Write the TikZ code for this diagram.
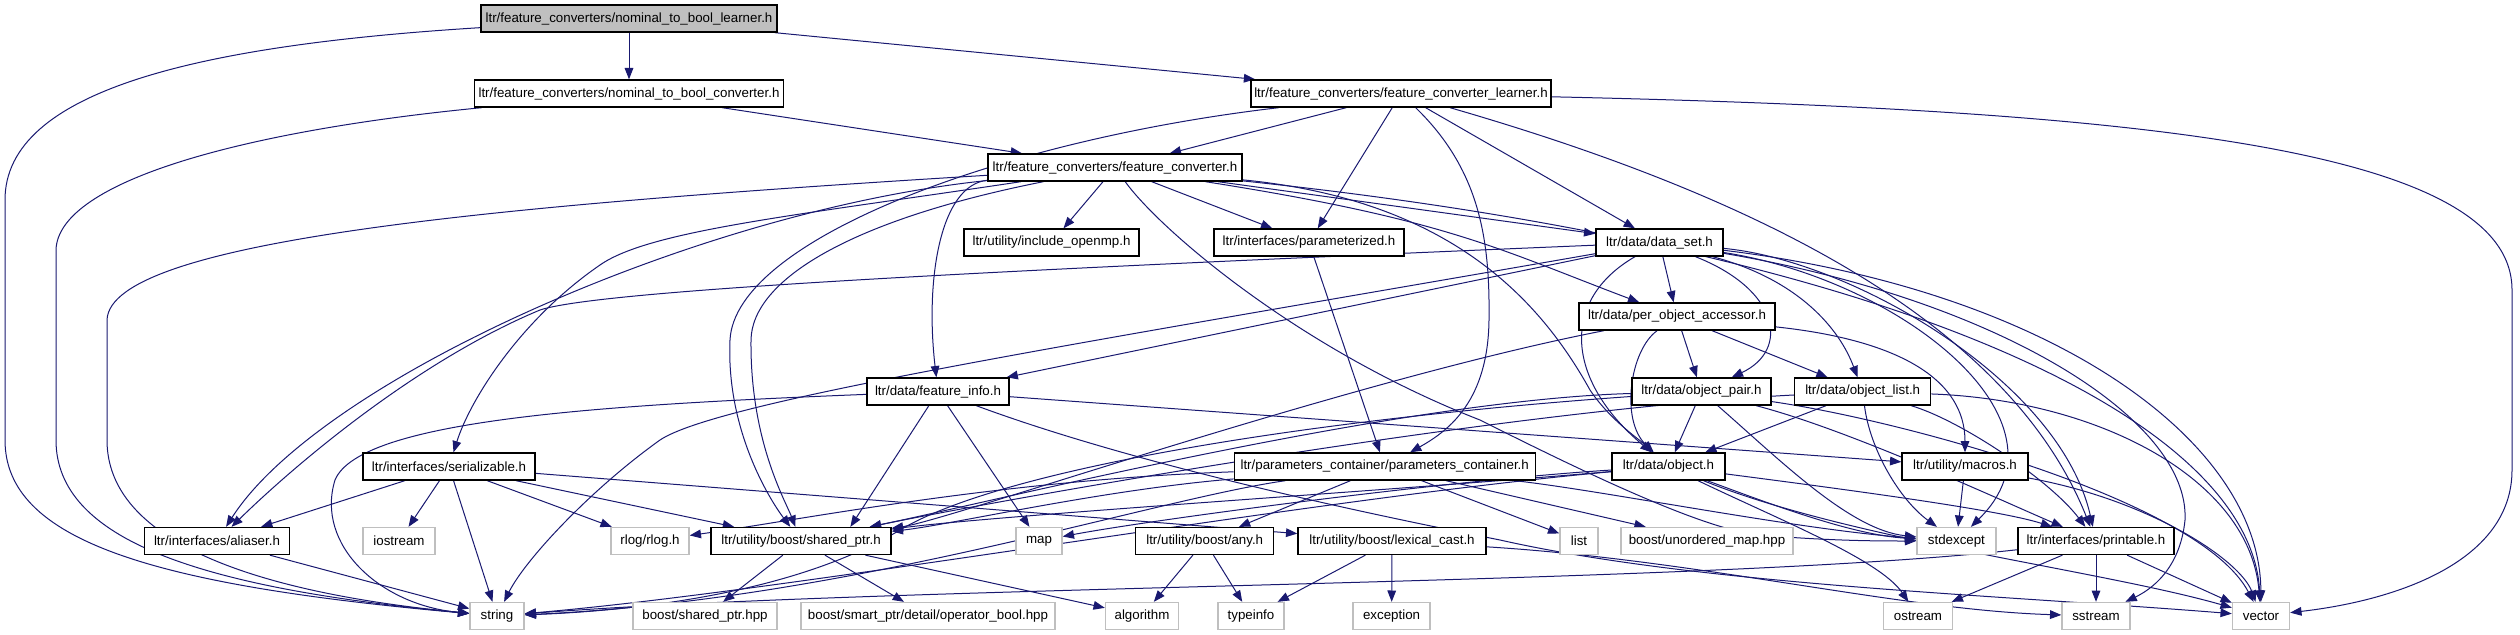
\documentclass[tikz,border=0pt]{standalone}
\usepackage{fontspec}
\setmainfont{Liberation Sans}
\usetikzlibrary{arrows.meta}
\definecolor{edgec}{HTML}{191970}
\definecolor{sysgray}{HTML}{BFBFBF}
\pgfdeclarelayer{edges}
\pgfsetlayers{edges,main}
\begin{document}
\begin{tikzpicture}[x=0.75pt,y=-0.75pt,
  hdr/.style={draw=black, line width=1pt, fill=white, minimum height=20.25pt, inner sep=0pt, font=\fontsize{10}{12}\selectfont},
  sys/.style={hdr, draw=sysgray},
  w/.style={minimum width=#1*0.75pt},
  e/.style={draw=edgec, line width=0.75pt, -{Triangle[length=8.5pt,width=6.5pt]}}]
\useasboundingbox (0,0) rectangle (2520,635);
% nodes
\node[hdr,w=296,fill=sysgray] (L) at (629,18.5) {ltr/feature\_converters/nominal\_to\_bool\_learner.h};
\node[hdr,w=309] (NC) at (629,93.5) {ltr/feature\_converters/nominal\_to\_bool\_converter.h};
\node[hdr,w=300] (FCL) at (1401,93.5) {ltr/feature\_converters/feature\_converter\_learner.h};
\node[hdr,w=254] (FC) at (1115,167.5) {ltr/feature\_converters/feature\_converter.h};
\node[hdr,w=175] (OMP) at (1051.5,242.5) {ltr/utility/include\_openmp.h};
\node[hdr,w=190] (PAR) at (1309,242.5) {ltr/interfaces/parameterized.h};
\node[hdr,w=127] (DS) at (1659.5,242.5) {ltr/data/data\_set.h};
\node[hdr,w=196] (POA) at (1677,316.5) {ltr/data/per\_object\_accessor.h};
\node[hdr,w=142] (FI) at (938,391.5) {ltr/data/feature\_info.h};
\node[hdr,w=139] (OP) at (1701.5,391.5) {ltr/data/object\_pair.h};
\node[hdr,w=136] (OL) at (1862.7,391.5) {ltr/data/object\_list.h};
\node[hdr,w=172] (SER) at (449,466.5) {ltr/interfaces/serializable.h};
\node[hdr,w=301] (PC) at (1384.7,466.5) {ltr/parameters\_container/parameters\_container.h};
\node[hdr,w=113] (OBJ) at (1668.5,466.5) {ltr/data/object.h};
\node[hdr,w=126] (MAC) at (1965,466.5) {ltr/utility/macros.h};
\node[hdr,w=145] (ALI) at (217,541) {ltr/interfaces/aliaser.h};
\node[sys,w=72] (IOS) at (399,541) {iostream};
\node[sys,w=78] (RLOG) at (650,541) {rlog/rlog.h};
\node[hdr,w=180] (SP) at (801,541) {ltr/utility/boost/shared\_ptr.h};
\node[sys,w=46] (MAP) at (1039,541) {map};
\node[hdr,w=138] (ANY) at (1204.7,541) {ltr/utility/boost/any.h};
\node[hdr,w=188] (LEX) at (1392,541) {ltr/utility/boost/lexical\_cast.h};
\node[sys,w=38] (LIST) at (1579,541) {list};
\node[sys,w=172] (UMAP) at (1707,541) {boost/unordered\_map.hpp};
\node[sys,w=79] (STDE) at (1956.4,541) {stdexcept};
\node[hdr,w=156] (PRN) at (2096,541) {ltr/interfaces/printable.h};
\node[sys,w=54] (STR) at (497,616) {string};
\node[sys,w=144] (BSP) at (705,616) {boost/shared\_ptr.hpp};
\node[sys,w=254] (OPB) at (928,616) {boost/smart\_ptr/detail/operator\_bool.hpp};
\node[sys,w=73] (ALG) at (1142,616) {algorithm};
\node[sys,w=66] (TYP) at (1251,616) {typeinfo};
\node[sys,w=77] (EXC) at (1391.6,616) {exception};
\node[sys,w=69] (OST) at (1918,616) {ostream};
\node[sys,w=68] (SST) at (2096,616) {sstream};
\node[sys,w=57] (VEC) at (2261,616) {vector};
\begin{pgfonlayer}{edges}
% top level
\draw[e] (L) .. controls (200,45) and (5,90) .. (5,200) -- (5,440) .. controls (5,540) and (150,585) .. (STR);
\draw[e] (L) -- (NC);
\draw[e] (L) -- (FCL);
\draw[e] (NC) .. controls (250,130) and (58,180) .. (56,250) -- (56,440) .. controls (56,540) and (200,588) .. (STR);
\draw[e] (NC) -- (FC);
% feature_converter_learner
\draw[e] (FCL) -- (FC);
\draw[e] (FCL) .. controls (1000,140) and (735,240) .. (730,340) .. controls (726,430) and (770,500) .. (SP);
\draw[e] (FCL) -- (PAR);
\draw[e] (FCL) -- (DS);
\draw[e] (FCL) .. controls (1480,170) and (1490,240) .. (1489,320) .. controls (1488,400) and (1450,430) .. (PC);
\draw[e] (FCL) .. controls (1700,180) and (2000,300) .. (PRN);
\draw[e] (FCL) .. controls (2150,110) and (2512,150) .. (2512,290) -- (2512,470) .. controls (2512,560) and (2400,600) .. (VEC);
% feature_converter
\draw[e] (FC) .. controls (500,205) and (110,240) .. (107,320) -- (107,440) .. controls (107,540) and (250,592) .. (STR);
\draw[e] (FC) .. controls (700,210) and (320,380) .. (ALI);
\draw[e] (FC) .. controls (800,215) and (650,230) .. (600,265) .. controls (520,320) and (470,400) .. (SER);
\draw[e] (FC) .. controls (850,220) and (752,280) .. (751,340) .. controls (750,440) and (785,500) .. (SP);
\draw[e] (FC) .. controls (940,185) and (925,280) .. (FI);
\draw[e] (FC) -- (OMP);
\draw[e] (FC) -- (PAR);
\draw[e] (FC) .. controls (1160,230) and (1300,350) .. (1480,420) .. controls (1560,460) and (1700,530) .. (1760,535) .. controls (1830,541) and (1880,541) .. (STDE);
\draw[e] (FC) -- (DS);
\draw[e] (FC) .. controls (1450,220) and (1500,250) .. (POA);
\draw[e] (FC) .. controls (1450,200) and (1540,300) .. (1590,390) .. controls (1610,420) and (1640,440) .. (OBJ);
\draw[e] (FC) .. controls (1900,250) and (2250,420) .. (VEC);
% parameterized
\draw[e] (PAR) -- (PC);
% data_set
\draw[e] (DS) .. controls (1000,270) and (600,290) .. (540,310) .. controls (420,360) and (300,460) .. (ALI);
\draw[e] (DS) .. controls (1100,340) and (720,400) .. (660,440) .. controls (590,490) and (525,560) .. (STR);
\draw[e] (DS) -- (FI);
\draw[e] (DS) -- (POA);
\draw[e] (DS) .. controls (1780,290) and (1790,350) .. (OP);
\draw[e] (DS) .. controls (1800,280) and (1840,330) .. (OL);
\draw[e] (DS) .. controls (1560,300) and (1565,380) .. (OBJ);
\draw[e] (DS) .. controls (1900,280) and (2080,420) .. (STDE);
\draw[e] (DS) .. controls (1850,260) and (2060,380) .. (PRN);
\draw[e] (DS) .. controls (2000,300) and (2190,420) .. (2185,520) .. controls (2180,570) and (2150,590) .. (SST);
\draw[e] (DS) .. controls (2050,290) and (2260,440) .. (VEC);
% per_object_accessor
\draw[e] (POA) .. controls (1350,380) and (950,520) .. (SP);
\draw[e] (POA) -- (OP);
\draw[e] (POA) -- (OL);
\draw[e] (POA) .. controls (1900,340) and (1965,380) .. (MAC);
\draw[e] (POA) .. controls (1630,350) and (1620,420) .. (OBJ);
% feature_info
\draw[e] (FI) .. controls (600,405) and (360,420) .. (335,480) .. controls (315,545) and (380,605) .. (STR);
\draw[e] (FI) -- (SP.16);
\draw[e] (FI) -- (MAP);
\draw[e] (FI) -- (MAC);
\draw[e] (FI) .. controls (1150,470) and (1400,520) .. (1500,540) .. controls (1700,585) and (2000,595) .. (VEC);
% object_pair
\draw[e] (OP) -- (OBJ);
\draw[e] (OP) .. controls (1400,400) and (1000,500) .. (SP);
\draw[e] (OP) .. controls (1300,420) and (1000,470) .. (900,530) .. controls (800,590) and (650,610) .. (STR);
\draw[e] (OP) .. controls (1780,460) and (1850,530) .. (STDE);
\draw[e] (OP) .. controls (1850,430) and (2000,500) .. (PRN);
\draw[e] (OP) .. controls (1900,420) and (2200,500) .. (VEC);
% object_list
\draw[e] (OL) -- (OBJ);
\draw[e] (OL) .. controls (1500,410) and (1000,500) .. (SP);
\draw[e] (OL) .. controls (1870,450) and (1900,500) .. (STDE);
\draw[e] (OL) .. controls (1960,420) and (2050,480) .. (PRN);
\draw[e] (OL) .. controls (2100,400) and (2250,480) .. (VEC);
% serializable
\draw[e] (SER) -- (ALI);
\draw[e] (SER) -- (IOS);
\draw[e] (SER) -- (STR);
\draw[e] (SER) -- (RLOG);
\draw[e] (SER) -- (SP);
\draw[e] (SER) -- (LEX);
% parameters_container
\draw[e] (PC) .. controls (1100,490) and (950,525) .. (SP);
\draw[e] (PC) .. controls (1000,480) and (800,520) .. (RLOG);
\draw[e] (PC) .. controls (1150,500) and (850,600) .. (STR);
\draw[e] (PC) -- (ANY);
\draw[e] (PC) -- (LIST);
\draw[e] (PC) -- (UMAP);
\draw[e] (PC) .. controls (1600,490) and (1800,530) .. (STDE);
% object
\draw[e] (OBJ) .. controls (1400,490) and (1000,515) .. (SP);
\draw[e] (OBJ) .. controls (1450,480) and (1150,520) .. (MAP);
\draw[e] (OBJ) .. controls (1300,500) and (800,590) .. (STR);
\draw[e] (OBJ) .. controls (1760,500) and (1850,535) .. (STDE);
\draw[e] (OBJ) .. controls (1850,490) and (2000,510) .. (PRN);
\draw[e] (OBJ) .. controls (1780,520) and (1880,560) .. (OST);
\draw[e] (OBJ) .. controls (1850,540) and (2100,570) .. (VEC);
% macros
\draw[e] (MAC) -- (STDE);
\draw[e] (MAC) .. controls (2150,500) and (2240,560) .. (VEC);
% aliaser
\draw[e] (ALI) -- (STR);
% shared_ptr
\draw[e] (SP) -- (BSP);
\draw[e] (SP) -- (OPB);
\draw[e] (SP) -- (ALG);
% any, lexical_cast
\draw[e] (ANY) -- (ALG);
\draw[e] (ANY) -- (TYP);
\draw[e] (LEX) -- (TYP);
\draw[e] (LEX) -- (EXC);
\draw[e] (LEX) .. controls (1700,560) and (1900,610) .. (SST);
% printable
\draw[e] (PRN) .. controls (1700,585) and (900,585) .. (STR);
\draw[e] (PRN) -- (OST);
\draw[e] (PRN) -- (SST);
\draw[e] (PRN) -- (VEC);
\end{pgfonlayer}
\end{tikzpicture}
\end{document}
